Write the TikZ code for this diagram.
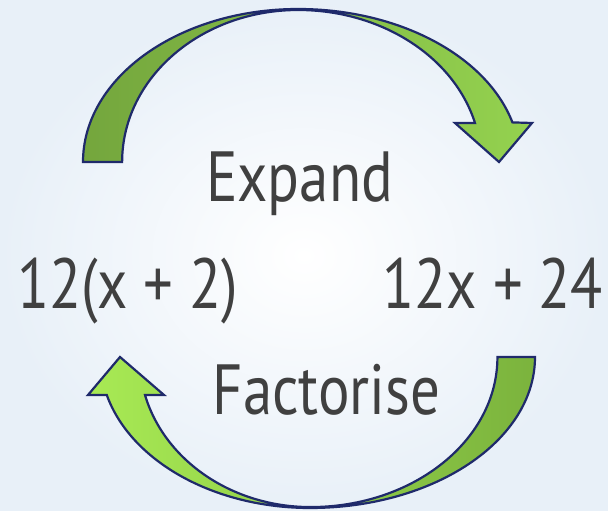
\documentclass[tikz,border=0pt]{standalone}
\usepackage{fontspec}
\setmainfont[FakeStretch=0.83]{PT Sans}
\usetikzlibrary{positioning}
\definecolor{navyline}{HTML}{1F2A6B}
\definecolor{greendark}{HTML}{74A63D}
\definecolor{greenlight}{HTML}{94D24F}
\definecolor{greenpale}{HTML}{A8EA54}
\definecolor{greenmid}{HTML}{7BB33D}
\definecolor{bgblue}{HTML}{E8F0F8}
\definecolor{textgrey}{HTML}{404040}

\begin{document}
\begin{tikzpicture}[x=1pt,y=1pt,
    arrowband/.style={draw=navyline,line width=2.2pt,line join=miter},
    term/.style={inner sep=0pt,anchor=base,text=textgrey,font=\fontsize{71}{80}\selectfont}]
  % background, fixes the page size
  \shade[inner color=white,outer color=bgblue] (0,0) rectangle (608,511);
  \useasboundingbox (0,0) rectangle (608,511);

  % upper arrow: 12(x+2) -> 12x+24
  \path[arrowband,left color=greendark,right color=greenlight]
    (83,349) arc[start angle=180,end angle=90,x radius=215,y radius=153]
    arc[start angle=90,end angle=15,x radius=222,y radius=153]
    -- (532,388) -- (499,349) -- (455,388) -- (475,388)
    arc[start angle=14.87,end angle=90,x radius=183,y radius=152]
    arc[start angle=90,end angle=180,x radius=176,y radius=152]
    -- cycle;

  % lower arrow: 12x+24 -> 12(x+2)
  \path[arrowband,left color=greenpale,right color=greenmid]
    (535,154) arc[start angle=0,end angle=-90,x radius=225,y radius=151]
    arc[start angle=-90,end angle=-165.4,x radius=210,y radius=151]
    -- (88,116) -- (120,154) -- (164,116) -- (145,116)
    arc[start angle=-165.35,end angle=-90,x radius=171,y radius=150]
    arc[start angle=-90,end angle=0,x radius=187,y radius=150]
    -- cycle;

  % labels
  \node[term] (expand) at (299.5,309) {Expand};
  \node[term,anchor=base west] (lhs) at (17,202) {12(x + 2)};
  \node[term,anchor=base east] (rhs) at (603,202) {12x + 24};
  \node[term] (factor) at (326.5,96) {Factorise};
\end{tikzpicture}
\end{document}
